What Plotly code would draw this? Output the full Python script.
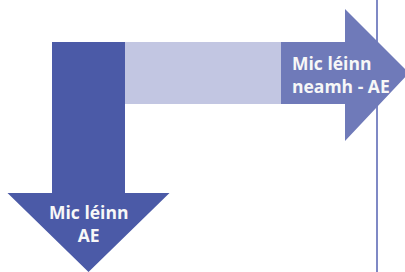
import plotly.graph_objects as go

# Flow labels (one entry per text line)
label_down = ["Mic léinn", "AE"]
label_right = ["Mic léinn", "neamh - AE"]
colors = {"down": "#4b5aa7", "band": "#c2c6e2", "right": "#6f7ab9", "line": "#7f89c5"}

# Geometry of the diagram (pixel space, y downward)
W, H = 405, 272
band_top, band_bottom = 42, 104
down_shaft = (52, 125)       # x-extent of downward shaft
down_head_y = 193            # y where downward head begins
down_head_half = 81          # half width of downward head
down_tip_y = 272
right_shaft_x = (281, 345)   # medium arrow shaft start and head start
right_head_top, right_head_bottom = 9, 141
right_tip_x = 409
divider_x = 377
down_text_y = 223.5
right_text_x = 291
right_text_y = 74.5

fig = go.Figure()

def poly(xs, ys, color):
    fig.add_trace(go.Scatter(x=xs + [xs[0]], y=ys + [ys[0]], mode="lines", fill="toself",
                             fillcolor=color, line=dict(width=0, color=color),
                             hoverinfo="skip", showlegend=False))

# divider line (behind the arrows)
fig.add_trace(go.Scatter(x=[divider_x, divider_x], y=[0, H], mode="lines",
                         line=dict(color=colors["line"], width=2),
                         hoverinfo="skip", showlegend=False))

# light band
poly([down_shaft[1], right_shaft_x[0], right_shaft_x[0], down_shaft[1]],
     [band_top, band_top, band_bottom, band_bottom], colors["band"])

# downward arrow
cx = (down_shaft[0] + down_shaft[1]) / 2
poly([down_shaft[0], down_shaft[1], down_shaft[1], cx + down_head_half, cx,
      cx - down_head_half, down_shaft[0]],
     [band_top, band_top, down_head_y, down_head_y, down_tip_y, down_head_y, down_head_y],
     colors["down"])

# right arrow
cy = (band_top + band_bottom) / 2
poly([right_shaft_x[0], right_shaft_x[1], right_shaft_x[1], right_tip_x, right_shaft_x[1],
      right_shaft_x[1], right_shaft_x[0]],
     [band_top, band_top, right_head_top, cy, right_head_bottom, band_bottom, band_bottom],
     colors["right"])

font = dict(family="Open Sans, Noto Sans, sans-serif", size=17.5, color="#f7f7f7")
fig.add_annotation(x=cx, y=down_text_y, text="<br>".join("<b>" + t + "</b>" for t in label_down),
                   showarrow=False, xanchor="center", yanchor="middle", align="center",
                   borderpad=0, font=font)
fig.add_annotation(x=right_text_x, y=right_text_y,
                   text="<br>".join("<b>" + t + "</b>" for t in label_right),
                   showarrow=False, xanchor="left", yanchor="middle", align="left",
                   borderpad=0, font=font)

fig.update_layout(width=W, height=H, margin=dict(l=0, r=0, t=0, b=0),
                  paper_bgcolor="white", plot_bgcolor="white",
                  xaxis=dict(range=[0, W], visible=False, fixedrange=True),
                  yaxis=dict(range=[H, 0], visible=False, fixedrange=True))
fig.write_html("out.html", config={"displayModeBar": False},
               post_script="document.body.style.margin='0';document.body.style.overflow='hidden';")
